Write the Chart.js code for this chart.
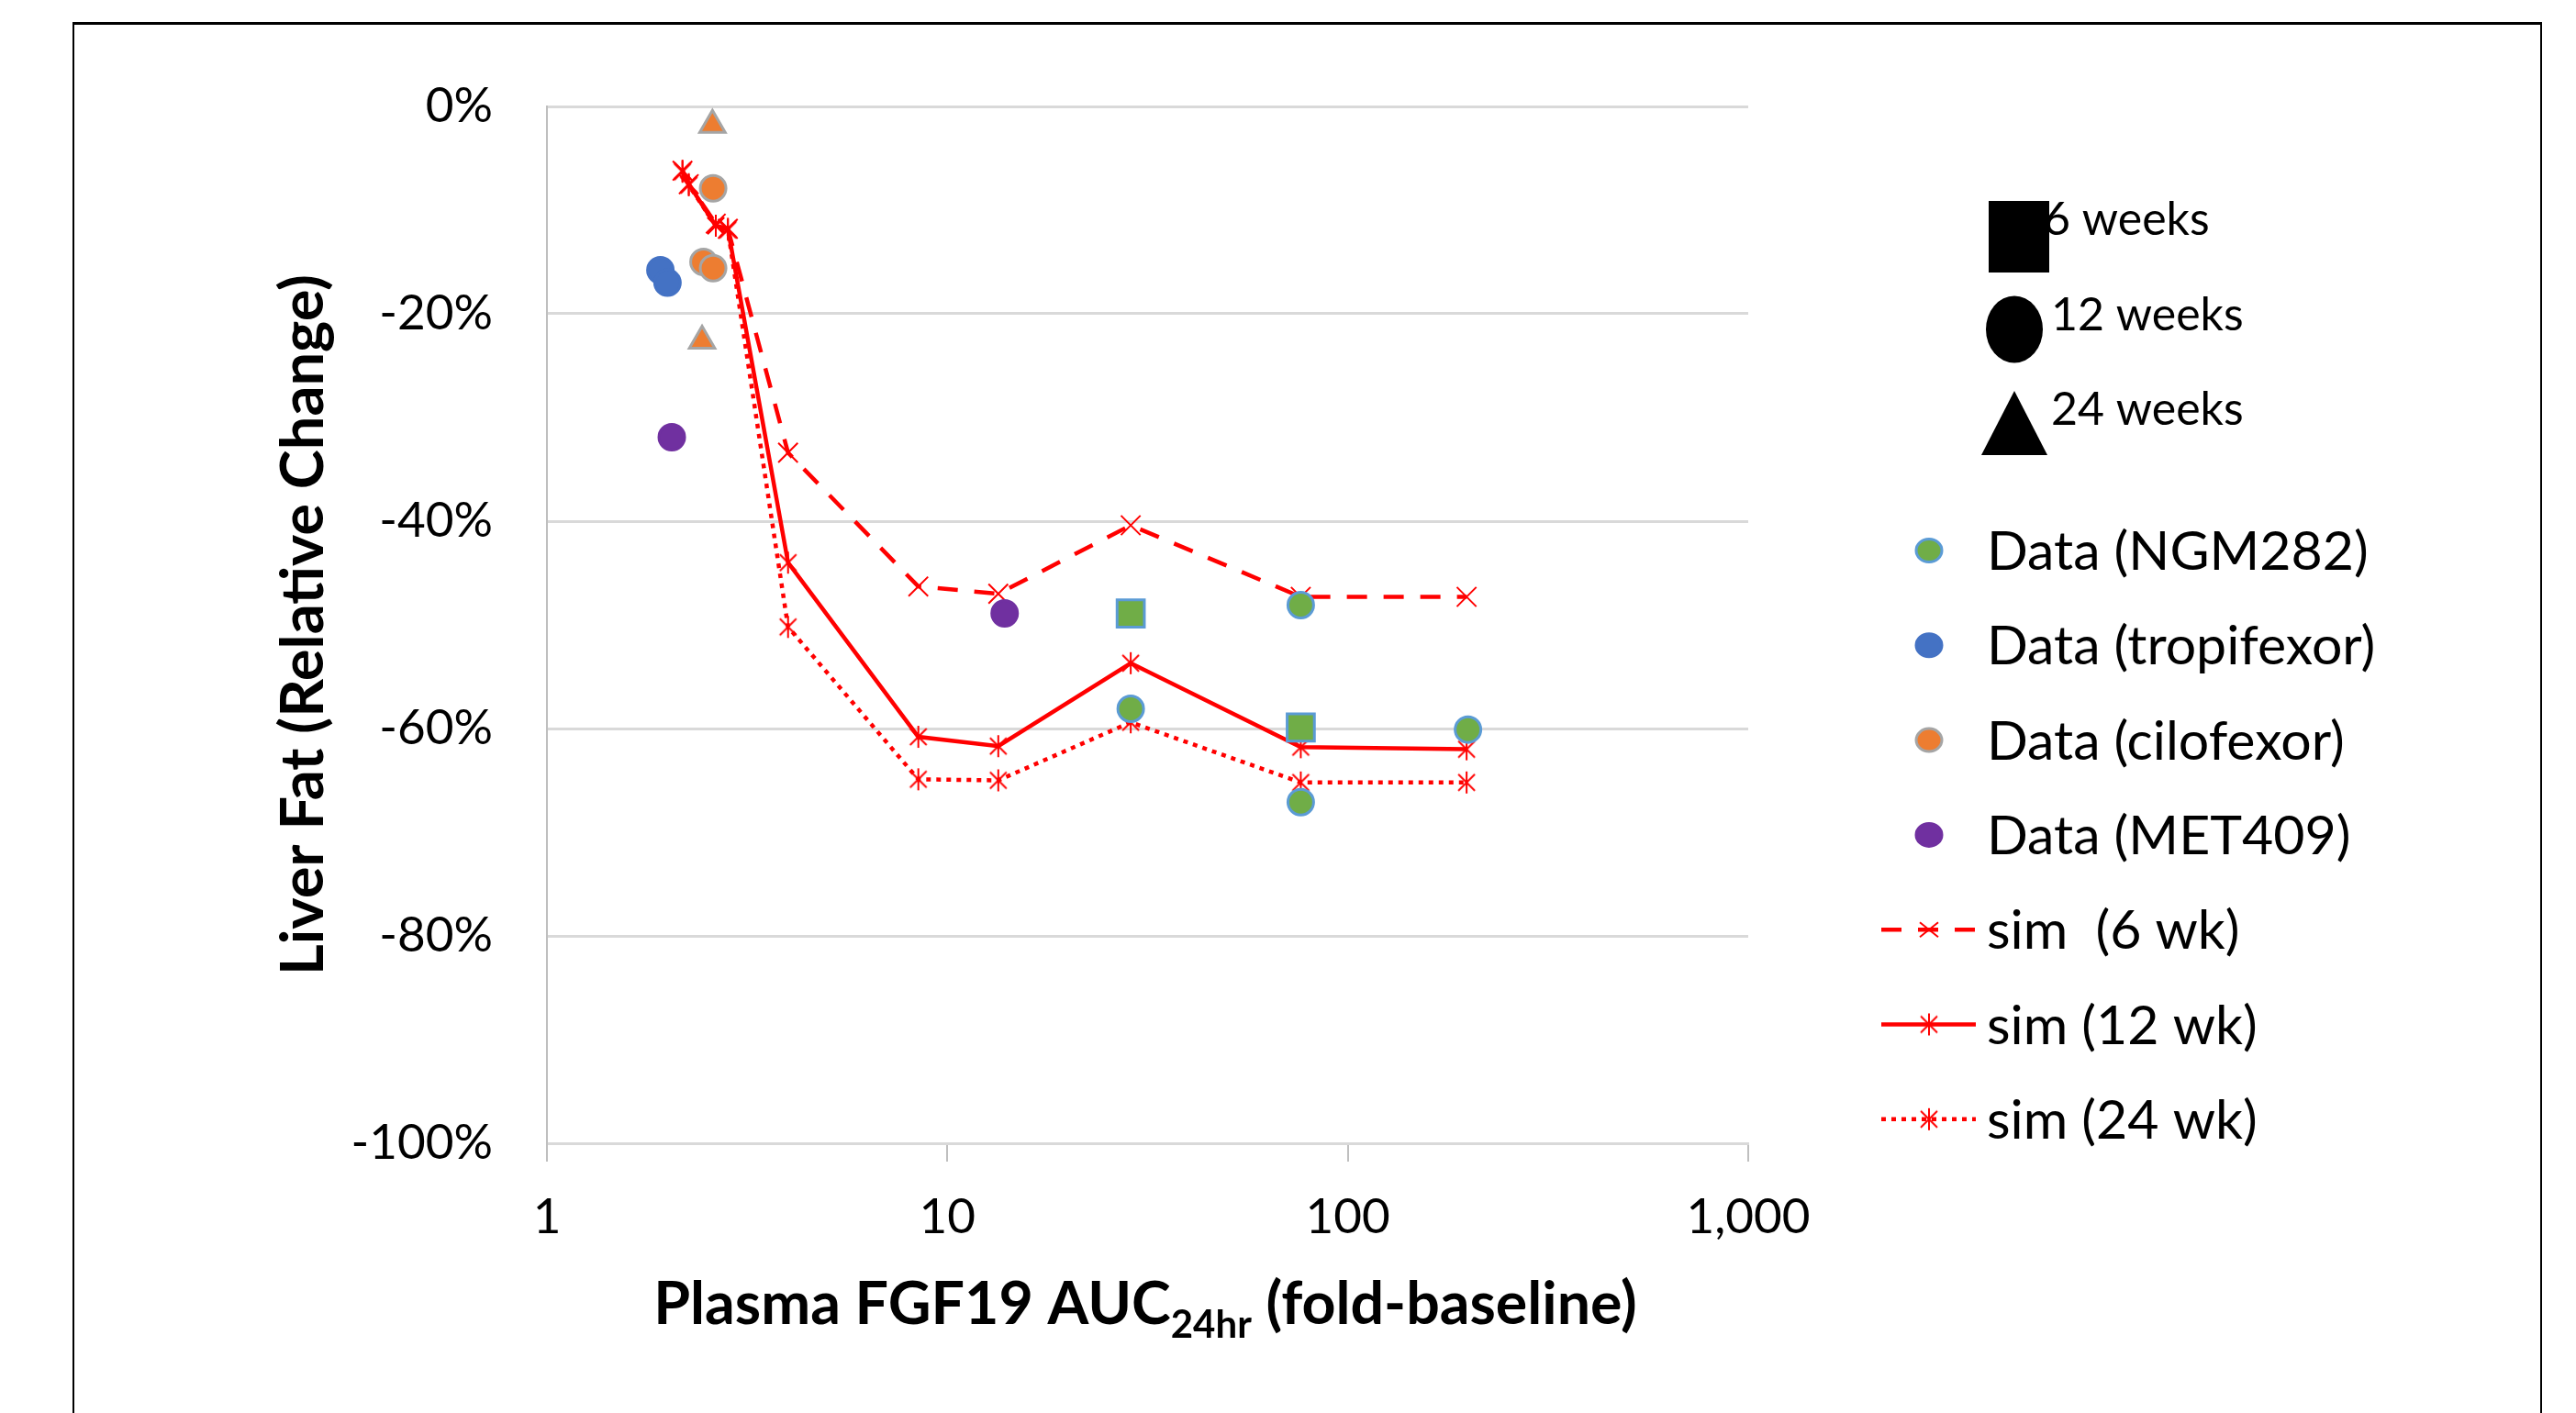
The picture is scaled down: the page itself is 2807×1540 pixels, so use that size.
<!DOCTYPE html>
<html><head><meta charset="utf-8">
<script src="https://cdn.jsdelivr.net/npm/chart.js@4.4.1/dist/chart.umd.min.js"></script>
<style>
html,body{margin:0;padding:0;background:#fff;overflow:hidden;}
#wrap{position:relative;width:2807px;height:1540px;}
#frame{position:absolute;left:79px;top:24px;width:2691px;height:1600px;border:2px solid #000;border-top-width:3px;box-sizing:border-box;pointer-events:none;}
canvas{position:absolute;left:0;top:0;}
</style></head><body>
<div id="wrap"><canvas id="c" width="2807" height="1540"></canvas><div id="frame"></div></div>
<script>
// ---------------- data ----------------
const xTickValues = [1, 10, 100, 1000];
const xTickLabels = ['1', '10', '100', '1,000'];
const yTickValues = [0, -20, -40, -60, -80, -100];
const yTickLabels = ['0%', '-20%', '-40%', '-60%', '-80%', '-100%'];

const ngmX = [28.7, 76.3, 28.7, 76.3, 76.3, 199.6];
const ngmY = [-48.9, -59.9, -58.1, -48.1, -67.1, -60.1];
const ngmWeeks = [6, 6, 12, 12, 12, 12];

const tropX = [1.92, 2.00];
const tropY = [-15.8, -17.0];
const tropWeeks = [12, 12];

const ciloX = [2.59, 2.60, 2.46, 2.60, 2.44];
const ciloY = [-1.8, -7.9, -15.0, -15.6, -22.6];
const ciloWeeks = [24, 12, 12, 12, 24];

const metX = [2.05, 13.9];
const metY = [-31.9, -48.9];
const metWeeks = [12, 12];

const simX = [2.18, 2.26, 2.64, 2.83, 4.0, 8.46, 13.4, 28.7, 76.3, 198];
const sim6wk = [-6.2, -7.5, -11.3, -11.8, -33.4, -46.3, -47.0, -40.4, -47.3, -47.3];
const sim12wk = [-6.2, -7.5, -11.5, -11.8, -44.0, -60.8, -61.7, -53.7, -61.8, -62.0];
const sim24wk = [-6.3, -7.6, -11.5, -11.9, -50.2, -64.9, -65.0, -59.4, -65.2, -65.2];

const seriesNames = ['Data (NGM282)', 'Data (tropifexor)', 'Data (cilofexor)', 'Data (MET409)', 'sim  (6 wk)', 'sim (12 wk)', 'sim (24 wk)'];
const weekLabels = ['6 weeks', '12 weeks', '24 weeks'];
const xTitleParts = ['Plasma FGF19 AUC', '24hr', ' (fold-baseline)'];
const yTitle = 'Liver Fat (Relative Change)';

// ---------------- styles ----------------
const FONT = 'Lato';
const RED = '#FF0000';
function shapeOf(w) { return w === 6 ? 'rect' : (w === 24 ? 'triangle' : 'circle'); }
function radiusOf(w) { return w === 6 ? 21 : (w === 24 ? 16 : 14); }
function pts(xs, ys) { return xs.map((x, i) => ({x: x, y: ys[i]})); }

function makeAsterisk() {
  const c = document.createElement('canvas');
  c.width = 26; c.height = 26;
  const g = c.getContext('2d');
  g.strokeStyle = RED; g.lineWidth = 2;
  g.beginPath();
  g.moveTo(4, 4); g.lineTo(22, 22);
  g.moveTo(22, 4); g.lineTo(4, 22);
  g.moveTo(13, 1); g.lineTo(13, 25);
  g.stroke();
  return c;
}
const asterisk = makeAsterisk();

const dataStyles = [
  {fill: '#70AD47', stroke: '#5B9BD5'},
  {fill: '#4472C4', stroke: '#4472C4'},
  {fill: '#ED7D31', stroke: '#A5A5A5'},
  {fill: '#7030A0', stroke: '#7030A0'}
];
const simStyles = [
  {dash: [22, 18], width: 4.5, marker: 'crossRot'},
  {dash: [], width: 4.5, marker: asterisk},
  {dash: [5, 6], width: 4.5, marker: asterisk}
];

function dataSet(i, xs, ys, weeks) {
  return {
    label: seriesNames[i], data: pts(xs, ys), showLine: false,
    pointStyle: weeks.map(shapeOf), pointRadius: weeks.map(radiusOf),
    pointHoverRadius: weeks.map(radiusOf),
    backgroundColor: dataStyles[i].fill, borderColor: dataStyles[i].stroke,
    pointBackgroundColor: dataStyles[i].fill, pointBorderColor: dataStyles[i].stroke,
    pointBorderWidth: 3
  };
}
function simSet(i, ys) {
  const s = simStyles[i];
  return {
    label: seriesNames[4 + i], data: pts(simX, ys), showLine: true,
    borderColor: RED, borderWidth: s.width, borderDash: s.dash, borderCapStyle: 'butt',
    tension: 0, pointStyle: s.marker, pointRadius: 15, pointHoverRadius: 15,
    pointBorderColor: RED, pointBackgroundColor: 'rgba(0,0,0,0)', pointBorderWidth: 2
  };
}

// ---------------- custom legend + x title ----------------
const legendPlugin = {
  id: 'customLegend',
  afterDraw(chart) {
    const ctx = chart.ctx;
    ctx.save();
    // week-shape key: text first, shapes on top
    ctx.fillStyle = '#000';
    ctx.font = '50px ' + FONT;
    ctx.textBaseline = 'middle';
    ctx.textAlign = 'left';
    ctx.fillText(weekLabels[0], 2227, 240);
    ctx.fillText(weekLabels[1], 2235, 344);
    ctx.fillText(weekLabels[2], 2235, 447);
    ctx.fillRect(2167, 219, 66, 78);
    ctx.beginPath(); ctx.ellipse(2195, 359, 31, 36.5, 0, 0, Math.PI * 2); ctx.fill();
    ctx.beginPath(); ctx.moveTo(2195, 426); ctx.lineTo(2231, 496); ctx.lineTo(2159, 496); ctx.closePath(); ctx.fill();

    // series legend
    const rowY0 = 600, rowDy = 103.3, mx = 2102, tx = 2165;
    ctx.font = '59px ' + FONT;
    for (let i = 0; i < seriesNames.length; i++) {
      const y = rowY0 + i * rowDy;
      if (i < 4) {
        ctx.beginPath();
        ctx.ellipse(mx, y, 14, 12.5, 0, 0, Math.PI * 2);
        ctx.fillStyle = dataStyles[i].fill; ctx.fill();
        ctx.lineWidth = 3; ctx.strokeStyle = dataStyles[i].stroke; ctx.stroke();
      } else {
        const s = simStyles[i - 4];
        ctx.strokeStyle = RED; ctx.lineWidth = s.width; ctx.lineCap = 'butt';
        ctx.setLineDash(s.dash);
        ctx.beginPath(); ctx.moveTo(2050, y); ctx.lineTo(2153, y); ctx.stroke();
        ctx.setLineDash([]);
        ctx.lineWidth = 2;
        if (s.marker === 'crossRot') {
          ctx.beginPath();
          ctx.moveTo(mx - 10, y - 8); ctx.lineTo(mx + 10, y + 8);
          ctx.moveTo(mx + 10, y - 8); ctx.lineTo(mx - 10, y + 8);
          ctx.stroke();
        } else {
          ctx.drawImage(s.marker, mx - 13, y - 13);
        }
      }
      ctx.fillStyle = '#000';
      ctx.fillText(seriesNames[i], tx, y + 2);
    }

    // x-axis title with subscript
    const cx = 1248, base = 1443;
    ctx.textBaseline = 'alphabetic';
    const mainFont = 'bold 64.5px ' + FONT, subFont = 'bold 42px ' + FONT;
    ctx.font = mainFont; const w0 = ctx.measureText(xTitleParts[0]).width, w2 = ctx.measureText(xTitleParts[2]).width;
    ctx.font = subFont; const w1 = ctx.measureText(xTitleParts[1]).width;
    let x = cx - (w0 + w1 + w2) / 2;
    ctx.font = mainFont; ctx.fillText(xTitleParts[0], x, base); x += w0;
    ctx.font = subFont; ctx.fillText(xTitleParts[1], x, base + 15); x += w1;
    ctx.font = mainFont; ctx.fillText(xTitleParts[2], x, base);
    ctx.restore();
  }
};

Chart.defaults.font.family = FONT;
Chart.defaults.color = '#000';

new Chart(document.getElementById('c'), {
  type: 'scatter',
  data: {
    datasets: [
      dataSet(0, ngmX, ngmY, ngmWeeks),
      dataSet(1, tropX, tropY, tropWeeks),
      dataSet(2, ciloX, ciloY, ciloWeeks),
      dataSet(3, metX, metY, metWeeks),
      simSet(0, sim6wk),
      simSet(1, sim12wk),
      simSet(2, sim24wk)
    ]
  },
  options: {
    responsive: false, animation: false, devicePixelRatio: 1,
    layout: {padding: {left: 0, top: 116, right: 902, bottom: 0}},
    plugins: {legend: {display: false}, tooltip: {enabled: false}, title: {display: false}},
    scales: {
      x: {
        type: 'logarithmic', position: 'bottom', min: 1, max: 1000,
        afterFit: s => { s.height = 294; },
        afterBuildTicks: s => { s.ticks = xTickValues.map(v => ({value: v})); },
        grid: {drawOnChartArea: false, drawTicks: true, tickLength: 20, color: '#BFBFBF', tickColor: '#BFBFBF', tickWidth: 2, lineWidth: 2},
        border: {display: true, color: '#D9D9D9', width: 3},
        ticks: {autoSkip: false, maxRotation: 0, padding: 29, font: {size: 53}, color: '#000',
          callback: (v, i) => xTickLabels[i]}
      },
      y: {
        min: -100, max: 0,
        afterFit: s => { s.width = 596; },
        afterBuildTicks: s => { s.ticks = yTickValues.map(v => ({value: v})); },
        grid: {color: '#D9D9D9', lineWidth: 3, drawTicks: false},
        border: {display: true, color: '#BFBFBF', width: 2},
        ticks: {padding: 59, font: {size: 53}, color: '#000', z: 0,
          callback: (v, i) => yTickLabels[i]},
        title: {display: true, text: yTitle, color: '#000', font: {size: 65, weight: 'bold'}, padding: {top: 292, bottom: 0}}
      }
    }
  },
  plugins: [legendPlugin]
});
</script>
</body></html>
